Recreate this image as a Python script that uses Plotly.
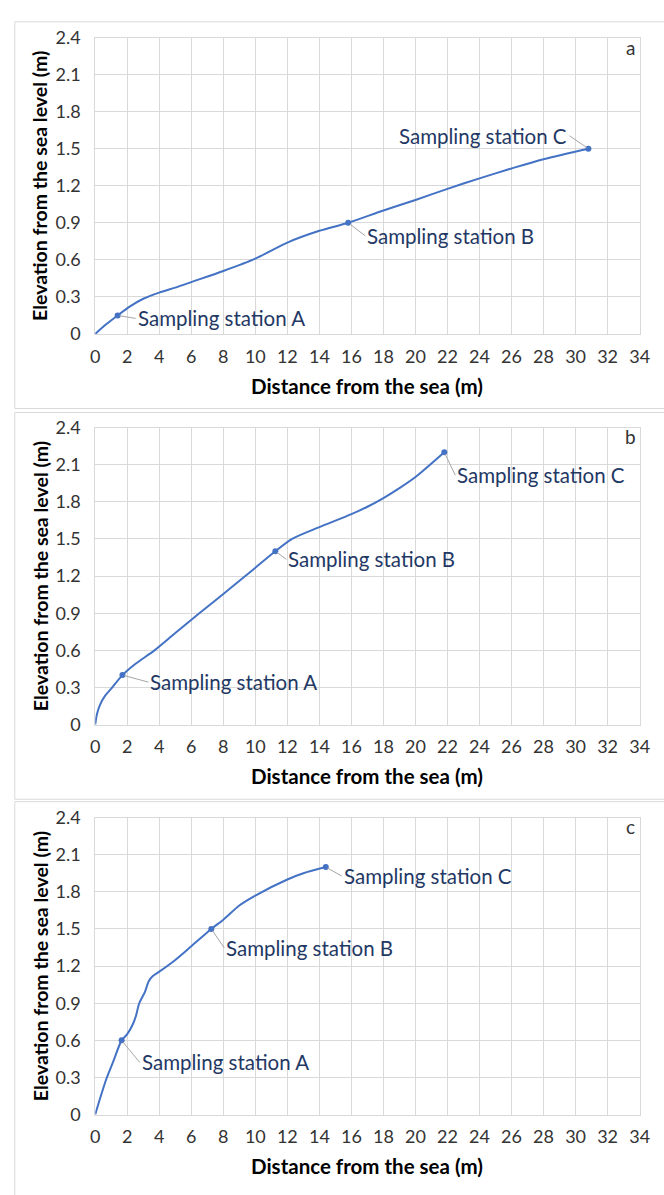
import plotly.graph_objects as go

# ---------------- data ----------------
dist_a = [0, 0.7, 1.4, 2.2, 3, 4, 5, 6, 8, 10, 12, 14, 15.8, 18, 20, 22, 24, 26, 28, 30.8]
elev_a = [0, 0.08, 0.15, 0.225, 0.285, 0.335, 0.375, 0.42, 0.51, 0.61, 0.74, 0.835, 0.90, 1.0, 1.085, 1.175, 1.26, 1.34, 1.415, 1.50]
station_x_a = [1.4, 15.8, 30.8]
station_y_a = [0.15, 0.90, 1.50]

dist_b = [0, 0.1, 0.3, 0.6, 1.0, 1.7, 2.5, 3.7, 5, 6.5, 8, 9.7, 11.25, 12.3, 14, 16, 17, 18, 19, 20, 21.8]
elev_b = [0, 0.08, 0.16, 0.23, 0.29, 0.40, 0.49, 0.60, 0.74, 0.90, 1.055, 1.235, 1.40, 1.50, 1.595, 1.70, 1.76, 1.83, 1.91, 2.0, 2.20]
station_x_b = [1.7, 11.25, 21.8]
station_y_b = [0.40, 1.40, 2.20]

dist_c = [0, 0.35, 0.7, 1.1, 1.65, 2, 2.35, 2.55, 2.75, 3.1, 3.35, 3.6, 4, 5, 6, 7.25, 8, 9, 10, 12, 13, 14.4]
elev_c = [0, 0.15, 0.29, 0.42, 0.60, 0.65, 0.73, 0.80, 0.90, 0.99, 1.08, 1.12, 1.155, 1.25, 1.36, 1.50, 1.575, 1.69, 1.77, 1.90, 1.95, 2.0]
station_x_c = [1.65, 7.25, 14.4]
station_y_c = [0.60, 1.50, 2.0]

station_names = ["Sampling station A", "Sampling station B", "Sampling station C"]
panel_letters = ["a", "b", "c"]
x_ticks = list(range(0, 35, 2))
y_ticks = [0, 0.3, 0.6, 0.9, 1.2, 1.5, 1.8, 2.1, 2.4]
y_tick_text = ["0", "0.3", "0.6", "0.9", "1.2", "1.5", "1.8", "2.1", "2.4"]
x_title = "Distance from the sea (m)"
y_title = "Elevation from the sea level (m)"

# ---------------- layout geometry (pixels) ----------------
W, H = 664, 1195
def py(p):
    return (H - p) / H

x_dom = [92.3 / W, 649.3 / W]
y_doms = [[py(328), py(26)], [py(726), py(423.3)], [py(1123.3), py(820.7)]]
panel_boxes = [(10, 404), (408, 802), (804.5, 1210)]
xtitle_y = [381, 778, 1176]
letter_y = [36, 432, 830]
# label offsets (pixels) relative to station marker: (ax, ay, xanchor)
label_offsets = [
    [(18, 3, "left"), (17, 13, "left"), (-19, -13, "right")],
    [(26, 7, "left"), (11, 8, "left"), (11, 23, "left")],
    [(18, 22, "left"), (13, 19, "left"), (16, 9, "left")],
]

LINE_BLUE = "#4472C4"
GRID = "#D9D9D9"
LABEL_NAVY = "#1F3864"
TICK_COL = "#333333"
FONT = "Lato"

profiles = [(dist_a, elev_a, station_x_a, station_y_a),
            (dist_b, elev_b, station_x_b, station_y_b),
            (dist_c, elev_c, station_x_c, station_y_c)]

fig = go.Figure()
annotations = []
shapes = []

for i, (dx, ey, sx, sy) in enumerate(profiles):
    n = "" if i == 0 else str(i + 1)
    xa, ya = "x" + n, "y" + n
    fig.add_trace(go.Scatter(x=dx, y=ey, mode="lines", line=dict(color=LINE_BLUE, width=2, shape="spline", smoothing=0.8),
                             xaxis=xa, yaxis=ya, showlegend=False, hoverinfo="skip"))
    fig.add_trace(go.Scatter(x=sx, y=sy, mode="markers", marker=dict(color=LINE_BLUE, size=6),
                             xaxis=xa, yaxis=ya, showlegend=False))
    axis_common = dict(showgrid=True, gridcolor=GRID, gridwidth=1, showline=True, linecolor=GRID,
                       linewidth=1, mirror=True, zeroline=False, ticks="",
                       tickfont=dict(family=FONT, size=18, color=TICK_COL), fixedrange=True)
    fig.update_layout(**{
        "xaxis" + n: dict(domain=x_dom, range=[0, 34], tickvals=x_ticks, anchor=ya,
                          ticklabelstandoff=6, **axis_common),
        "yaxis" + n: dict(domain=y_doms[i], range=[0, 2.4], tickvals=y_ticks, ticktext=y_tick_text,
                          anchor=xa, ticklabelstandoff=10, **axis_common),
    })
    # station labels with leader lines
    for j in range(3):
        ax, ay, xanc = label_offsets[i][j]
        annotations.append(dict(x=sx[j], y=sy[j], xref=xa, yref=ya, text=station_names[j],
                                showarrow=True, arrowhead=0, arrowwidth=1, arrowcolor="#A6A6A6",
                                ax=ax, ay=ay, xanchor=xanc, yanchor="middle", standoff=2,
                                font=dict(family=FONT, size=20.5, color=LABEL_NAVY)))
    # axis titles
    annotations.append(dict(x=(x_dom[0] + x_dom[1]) / 2, y=py(xtitle_y[i]), xref="paper", yref="paper",
                            text="<b>" + x_title + "</b>", showarrow=False, xanchor="center", yanchor="middle",
                            font=dict(family=FONT, size=20.5, color="#000000")))
    annotations.append(dict(x=36 / W, y=(y_doms[i][0] + y_doms[i][1]) / 2, xref="paper", yref="paper",
                            text="<b>" + y_title + "</b>", showarrow=False, textangle=-90,
                            xanchor="center", yanchor="middle",
                            font=dict(family=FONT, size=19.5, color="#000000")))
    annotations.append(dict(x=640 / W, y=py(letter_y[i]), xref="paper", yref="paper", text=panel_letters[i],
                            showarrow=False, xanchor="center", yanchor="middle",
                            font=dict(family=FONT, size=19, color=TICK_COL)))
    top, bot = panel_boxes[i]
    shapes.append(dict(type="rect", xref="paper", yref="paper", x0=10 / W, x1=1.02, y0=py(bot), y1=py(top),
                       line=dict(color=GRID, width=1), fillcolor="rgba(0,0,0,0)", layer="below"))

fig.update_layout(width=W, height=H, margin=dict(l=0, r=0, t=0, b=0),
                  paper_bgcolor="white", plot_bgcolor="white",
                  annotations=annotations, shapes=shapes, font=dict(family=FONT))

fig.write_html("out.html")
